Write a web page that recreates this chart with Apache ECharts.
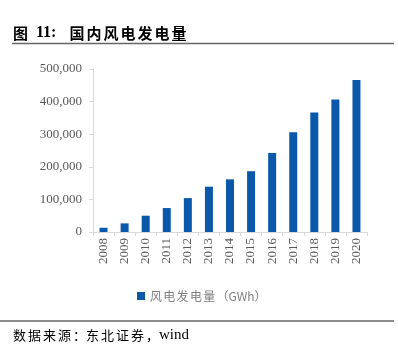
<!DOCTYPE html>
<html>
<head>
<meta charset="utf-8">
<script src="https://cdn.jsdelivr.net/npm/echarts@6/dist/echarts.min.js"></script>
<style>
    html, body { margin: 0; padding: 0; background: #fff; }
    #chart { width: 398px; height: 351px; }
</style>
</head>
<body>
<div id="chart"></div>
<script>
// data (GWh)
const years = ['2008', '2009', '2010', '2011', '2012', '2013', '2014', '2015', '2016', '2017', '2018', '2019', '2020'];
const windPower = [13000, 26500, 50000, 73500, 104000, 139000, 161500, 186500, 242500, 306000, 366500, 406500, 466500];
const seriesName = '风电发电量（GWh）';

const serif = '"Liberation Serif", "DejaVu Serif", serif';
const cjk = '"Noto Sans CJK SC", sans-serif';

// wrap each character in its own rich token so it can get some letter spacing
const spread = (s, style) => s.split('').map(ch => '{' + style + '|' + ch + '}').join('');

const chart = echarts.init(document.getElementById('chart'));

const option = {
    animation: false,
    title: {
        text: '{t|图}{num|11:}' + spread('国内风电发电量', 'c'),
        left: 8,
        top: 20,
        textStyle: {
            rich: {
                t: { fontFamily: cjk, fontSize: 15, fontWeight: 'bold', color: '#000', padding: [0, 8, 0, 0] },
                num: { fontFamily: serif, fontSize: 16, fontWeight: 'bold', color: '#000', padding: [0, 13, 0, 0] },
                c: { fontFamily: cjk, fontSize: 15, fontWeight: 'bold', color: '#000', padding: [0, 2, 0, 0] }
            }
        }
    },
    graphic: [
        {
            type: 'line',
            shape: { x1: 12, y1: 43.5, x2: 394, y2: 43.5 },
            style: { stroke: '#666', lineWidth: 1.5 }
        },
        {
            type: 'line',
            shape: { x1: 0, y1: 321, x2: 394, y2: 321 },
            style: { stroke: '#666', lineWidth: 1.5 }
        },
        {
            type: 'text',
            left: 13,
            top: 328,
            style: {
                text: spread('数据来源', 'c') + '{p|：}' + spread('东北证券', 'c') + '{p|，}{w|wind}',
                rich: {
                    c: { fontFamily: cjk, fontSize: 13, fill: '#000', padding: [0, 2, 0, 0] },
                    p: { fontFamily: cjk, fontSize: 13, fill: '#000' },
                    w: { fontFamily: serif, fontSize: 15, fill: '#000' }
                }
            }
        }
    ],
    legend: {
        left: 132,
        top: 285,
        itemWidth: 8,
        itemHeight: 8,
        icon: 'rect',
        formatter: () => spread('风电发电量', 'c') + '{p|（GWh）}',
        textStyle: {
            rich: {
                c: { fontFamily: cjk, fontSize: 12, color: '#7f7f7f', padding: [0, 1.3, 0, 0] },
                p: { fontFamily: cjk, fontSize: 12, color: '#7f7f7f' }
            }
        },
        data: [seriesName]
    },
    grid: {
        left: 93,
        right: 31,
        top: 69,
        bottom: 119
    },
    xAxis: {
        type: 'category',
        data: years,
        axisLine: { lineStyle: { color: '#d9d9d9' } },
        axisTick: { show: true, alignWithLabel: false, length: 4, lineStyle: { color: '#d9d9d9' } },
        axisLabel: { rotate: 90, margin: 6, fontFamily: serif, fontSize: 13, color: '#595959', interval: 0 }
    },
    yAxis: {
        type: 'value',
        min: 0,
        max: 500000,
        interval: 100000,
        axisLine: { show: true, lineStyle: { color: '#d9d9d9' } },
        axisTick: { show: true, length: 4, lineStyle: { color: '#d9d9d9' } },
        splitLine: { show: false },
        axisLabel: {
            margin: 11,
            fontFamily: serif,
            fontSize: 13,
            color: '#595959',
            formatter: v => v.toLocaleString('en-US')
        }
    },
    series: [
        {
            name: seriesName,
            type: 'bar',
            data: windPower,
            barWidth: 8,
            itemStyle: { color: '#0a58aa' }
        }
    ]
};

chart.setOption(option);
</script>
</body>
</html>
